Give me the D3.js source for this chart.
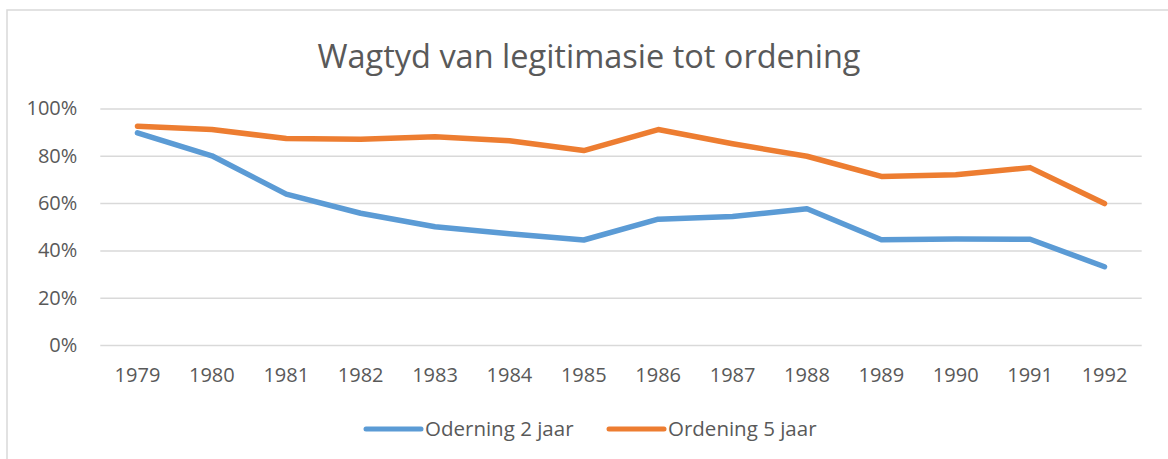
<!DOCTYPE html>
<html>
<head>
<meta charset="utf-8">
<script src="https://cdn.jsdelivr.net/npm/d3@7"></script>
<style>
  body { margin: 0; background: #fff; }
  text { font-family: "Open Sans", sans-serif; fill: #595959; }
</style>
</head>
<body>
<div id="chart"></div>
<script>
// data
let years = ["1979","1980","1981","1982","1983","1984","1985","1986","1987","1988","1989","1990","1991","1992"];
let twoYear = [0.897,0.80,0.638,0.557,0.50,0.47,0.444,0.532,0.543,0.576,0.445,0.448,0.447,0.331];
let fiveYear = [0.925,0.911,0.873,0.870,0.881,0.864,0.822,0.911,0.851,0.798,0.713,0.72,0.75,0.598];
let yTicks = [0,0.2,0.4,0.6,0.8,1.0];
let seriesNames = ["Oderning 2 jaar","Ordening 5 jaar"];
let colors = ["#5B9BD5","#ED7D31"];

let W = 1168, H = 459;

let svg = d3.select("#chart").append("svg")
  .attr("width", W)
  .attr("height", H);

// chart frame
svg.append("rect")
  .attr("x", 7).attr("y", 10)
  .attr("width", 1300).attr("height", 600)
  .style("fill", "none")
  .style("stroke", "#D9D9D9")
  .style("stroke-width", 1.5);

let x = d3.scaleBand().domain(years).range([100.3, 1141.7]);
let y = d3.scaleLinear().domain([0, 1]).range([345, 108.5]);

// title
svg.append("text")
  .attr("x", 589).attr("y", 68)
  .attr("text-anchor", "middle")
  .style("font-size", "32.5px")
  .text("Wagtyd van legitimasie tot ordening");

// y axis with gridlines
let yAxis = svg.append("g")
  .attr("transform", "translate(100.3,0)")
  .call(d3.axisLeft(y)
    .tickValues(yTicks)
    .tickFormat(d3.format(".0%"))
    .tickSize(-(1141.7 - 100.3))
    .tickPadding(23));
yAxis.select(".domain").remove();
yAxis.selectAll(".tick line")
  .style("stroke", "#D9D9D9")
  .style("stroke-width", 1.5);
yAxis.selectAll(".tick text")
  .style("font-size", "20px")
  .style("font-family", "'Open Sans', sans-serif")
  .attr("fill", "#595959");

// x axis labels
let xAxis = svg.append("g")
  .attr("transform", "translate(0,345)")
  .call(d3.axisBottom(x).tickSize(0).tickPadding(23));
xAxis.select(".domain").remove();
xAxis.selectAll(".tick text")
  .style("font-size", "20px")
  .style("font-family", "'Open Sans', sans-serif")
  .attr("fill", "#595959");

// lines
let line = d3.line()
  .x(function (d, i) { return x(years[i]) + x.bandwidth() / 2; })
  .y(function (d) { return y(d); });

let series = [twoYear, fiveYear];
svg.selectAll("path.series")
  .data(series)
  .enter()
  .append("path")
  .attr("class", "series")
  .attr("d", line)
  .style("fill", "none")
  .style("stroke", function (d, i) { return colors[i]; })
  .style("stroke-width", 5.5)
  .style("stroke-linejoin", "round")
  .style("stroke-linecap", "round");

// legend
let legendX = [366, 609];
let legend = svg.selectAll("g.legend")
  .data(seriesNames)
  .enter()
  .append("g")
  .attr("class", "legend")
  .attr("transform", function (d, i) { return "translate(" + legendX[i] + ",429)"; });

legend.append("line")
  .attr("x1", 0).attr("x2", 55)
  .attr("y1", 0).attr("y2", 0)
  .style("stroke", function (d, i) { return colors[i]; })
  .style("stroke-width", 5)
  .style("stroke-linecap", "round");

legend.append("text")
  .attr("x", 59).attr("y", 7)
  .style("font-size", "20.5px")
  .text(function (d) { return d; });
</script>
</body>
</html>
